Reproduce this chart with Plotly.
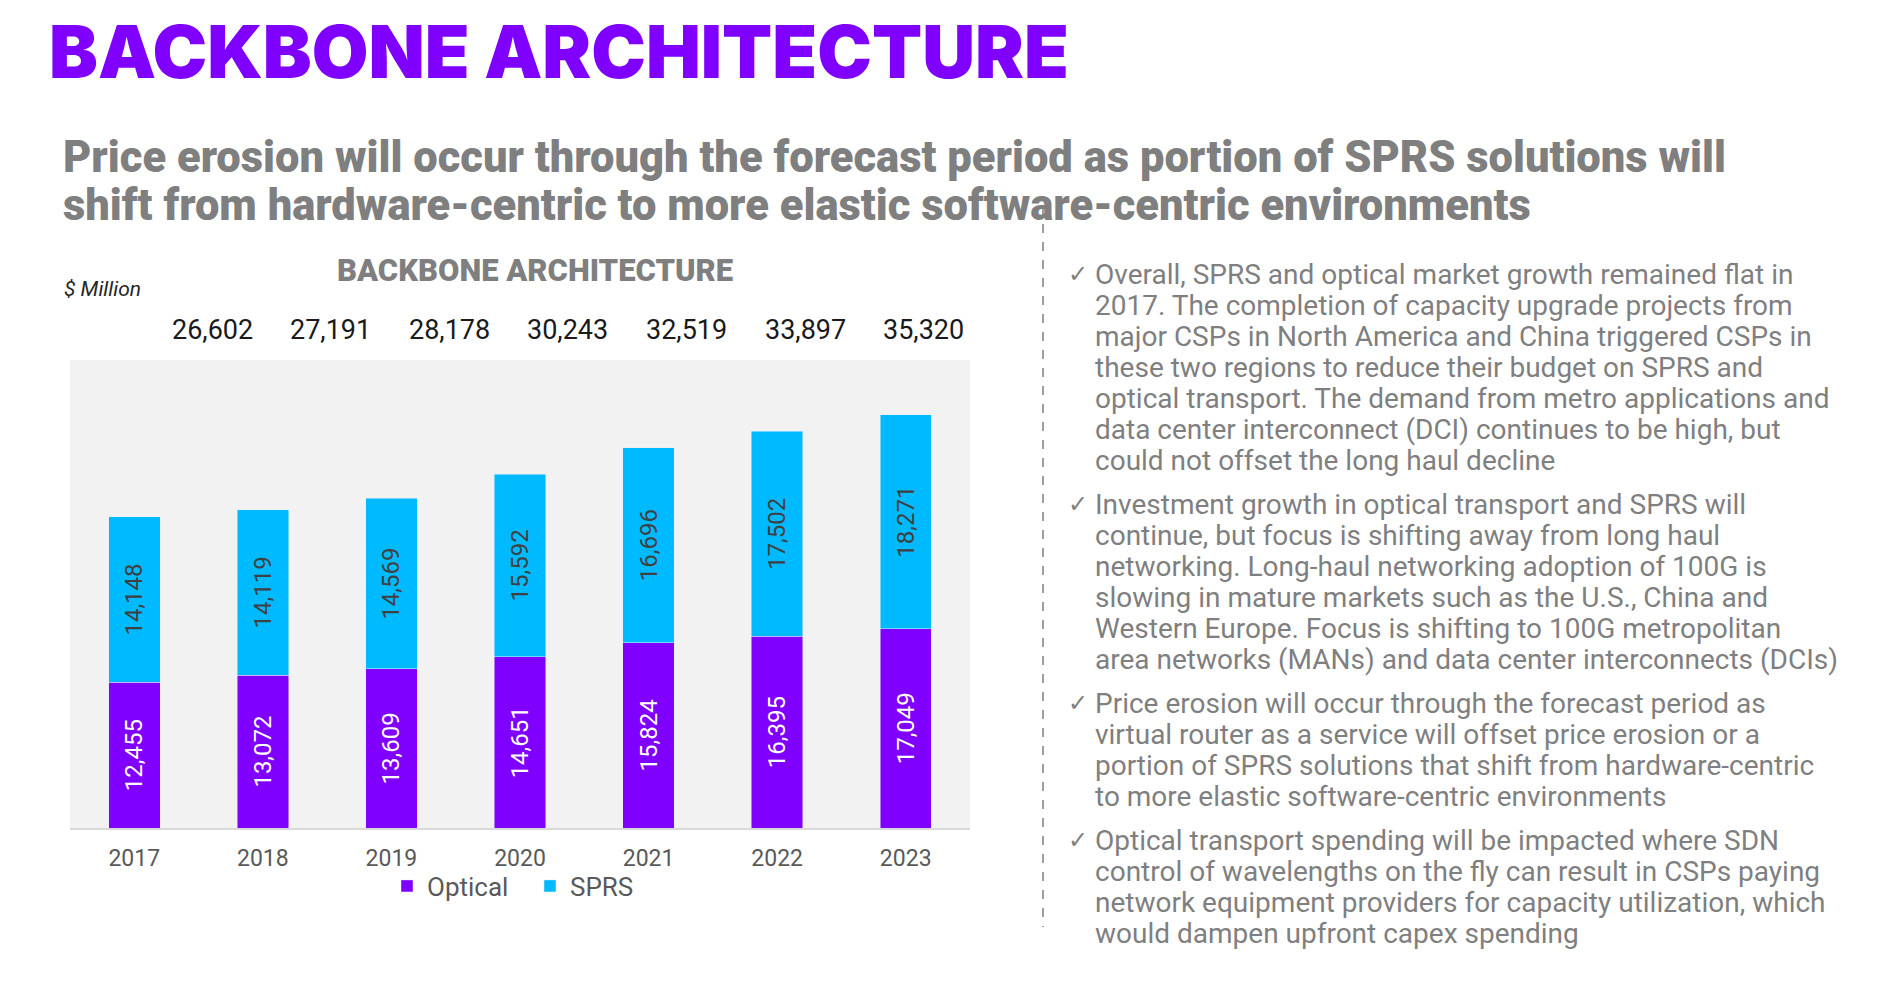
import plotly.graph_objects as go

years = ["2017", "2018", "2019", "2020", "2021", "2022", "2023"]
optical = [12455, 13072, 13609, 14651, 15824, 16395, 17049]
sprs = [14148, 14119, 14569, 15592, 16696, 17502, 18271]
totals = ["26,602", "27,191", "28,178", "30,243", "32,519", "33,897", "35,320"]

title = "BACKBONE ARCHITECTURE"
subtitle_lines = [
    "Price erosion will occur through the forecast period as portion of SPRS solutions will",
    "shift from hardware-centric to more elastic software-centric environments",
]
chart_title = "BACKBONE ARCHITECTURE"
unit_label = "$ Million"
bullets = [
    ["Overall, SPRS and optical market growth remained flat in",
     "2017. The completion of capacity upgrade projects from",
     "major CSPs in North America and China triggered CSPs in",
     "these two regions to reduce their budget on SPRS and",
     "optical transport. The demand from metro applications and",
     "data center interconnect (DCI) continues to be high, but",
     "could not offset the long haul decline"],
    ["Investment growth in optical transport and SPRS will",
     "continue, but focus is shifting away from long haul",
     "networking. Long-haul networking adoption of 100G is",
     "slowing in mature markets such as the U.S., China and",
     "Western Europe. Focus is shifting to 100G metropolitan",
     "area networks (MANs) and data center interconnects (DCIs)"],
    ["Price erosion will occur through the forecast period as",
     "virtual router as a service will offset price erosion or a",
     "portion of SPRS solutions that shift from hardware-centric",
     "to more elastic software-centric environments"],
    ["Optical transport spending will be impacted where SDN",
     "control of wavelengths on the fly can result in CSPs paying",
     "network equipment providers for capacity utilization, which",
     "would dampen upfront capex spending"],
]
bullet_starts = [274, 504, 703, 840]

PURPLE = "#7F00FF"
CYAN = "#00BAFF"
GRAY = "#7F7F7F"
W, H = 1901, 1008
OFF = 8  # page body margin
# plot area in screen pixels
SL, SR, ST, SB = 70, 970, 360, 828
PL, PR, PT, PB = SL - OFF, SR - OFF, ST - OFF, SB - OFF


def px(x):
    return (x - OFF - PL) / (PR - PL)


def py(y):
    return (PB - (y - OFF)) / (PB - PT)


fig = go.Figure()
fig.add_trace(go.Bar(
    x=years, y=optical, name="Optical", marker_color=PURPLE,
    text=[f"{v:,}" for v in optical], textposition="inside", textangle=-90,
    insidetextanchor="middle", textfont=dict(color="white", size=24, family="Roboto"),
    constraintext="none", hoverinfo="skip",
))
fig.add_trace(go.Bar(
    x=years, y=sprs, name="SPRS", marker_color=CYAN,
    text=[f"{v:,}" for v in sprs], textposition="inside", textangle=-90,
    insidetextanchor="middle", textfont=dict(color="#404040", size=24, family="Roboto"),
    constraintext="none", hoverinfo="skip",
))

ann = []
ann.append(dict(text=title, x=px(47), y=py(52), xref="paper", yref="paper",
                xanchor="left", yanchor="middle", showarrow=False,
                font=dict(family="Inter", size=73.2, color=PURPLE, weight=900)))
for i, line in enumerate(subtitle_lines):
    ann.append(dict(text=line, x=px(61), y=py(157 + 48.5 * i), xref="paper", yref="paper",
                    xanchor="left", yanchor="middle", showarrow=False,
                    font=dict(family="Roboto", size=43.5, color=GRAY, weight=900)))
ann.append(dict(text=chart_title, x=px(535), y=py(270), xref="paper", yref="paper",
                xanchor="center", yanchor="middle", showarrow=False,
                font=dict(family="Roboto", size=31, color=GRAY, weight=900)))
ann.append(dict(text=f"<i>{unit_label}</i>", x=px(62), y=py(289), xref="paper", yref="paper",
                xanchor="left", yanchor="middle", showarrow=False,
                font=dict(family="Roboto", size=21, color="#262626")))
# totals row sits in its own evenly spaced text row above the plot
for i, t in enumerate(totals):
    ann.append(dict(text=t, x=px(212 + 118.6 * i), y=py(330), xref="paper", yref="paper",
                    xanchor="center", yanchor="middle", showarrow=False,
                    font=dict(family="Roboto", size=27, color="#1A1A1A")))
for lines, y0 in zip(bullets, bullet_starts):
    ann.append(dict(text="✓", x=px(1066), y=py(y0), xref="paper", yref="paper",
                    xanchor="left", yanchor="middle", showarrow=False,
                    font=dict(family="DejaVu Sans", size=24, color=GRAY)))
    for j, line in enumerate(lines):
        ann.append(dict(text=line, x=px(1093), y=py(y0 + 31.1 * j), xref="paper", yref="paper",
                        xanchor="left", yanchor="middle", showarrow=False,
                        font=dict(family="Roboto", size=28, color=GRAY)))

fig.update_layout(
    width=W, height=H, autosize=False,
    margin=dict(l=PL, r=W - PR, t=PT, b=H - PB, pad=0),
    paper_bgcolor="white", plot_bgcolor="#F2F2F2",
    barmode="stack", bargap=0.6,
    showlegend=True,
    legend=dict(orientation="h", x=px(387), y=py(886), xanchor="left", yanchor="middle",
                traceorder="normal", entrywidth=98, entrywidthmode="pixels",
                font=dict(family="Roboto", size=26, color="#595959"), bgcolor="rgba(0,0,0,0)",
                itemwidth=30),
    annotations=ann,
    shapes=[dict(type="line", xref="paper", yref="paper", x0=px(1043), x1=px(1043),
                 y0=py(206), y1=py(927), line=dict(color="#7F7F7F", width=1.5, dash="dash"))],
    xaxis=dict(type="category", showgrid=False, showline=True, linecolor="#D9D9D9", linewidth=2,
               ticks="outside", ticklen=8, tickcolor="rgba(0,0,0,0)",
               tickfont=dict(family="Roboto", size=23, color="#595959"),
               range=[-0.5, 6.5], fixedrange=True),
    yaxis=dict(range=[0, 40000], showgrid=False, showticklabels=False, zeroline=False,
               showline=False, fixedrange=True),
)

fig.write_html("out.html")
